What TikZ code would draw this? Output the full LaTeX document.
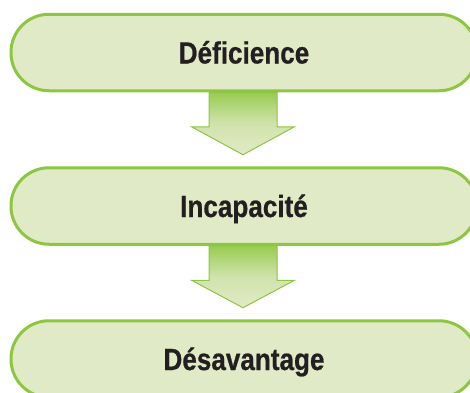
\documentclass[tikz,border=0pt]{standalone}
\usepackage{fontspec}
\setmainfont{Liberation Sans}[FakeStretch=0.85,BoldFeatures={FakeBold=0.6}]
\usetikzlibrary{calc,backgrounds}
\definecolor{boxfill}{HTML}{E1EAC7}
\definecolor{boxline}{HTML}{8DC63F}
\definecolor{textdark}{HTML}{231F20}

\begin{document}
\begin{tikzpicture}[x=1pt,y=-1pt,
  etape/.style={draw=boxline, fill=boxfill, line width=3pt, rounded corners=38pt,
    minimum width=466pt, minimum height=76.5pt, text=textdark,
    font=\bfseries\fontsize{30.7}{31}\selectfont, text height=22pt, text depth=0pt},
  fleche/.style={draw=boxline, line width=1pt, top color=boxline!90,
    bottom color=boxfill, middle color=boxfill!80!boxline}]
\clip (0,0) rectangle (470,392);
   %画像の大きさ 470x392 で切り取る

%%三つの段階
\node [etape] (def) at (244,52.5) {Déficience};
\node [etape] (inc) at (244,206) {Incapacité};
\node [etape] (des) at (244,359) {Désavantage};
   %緑の枠で角の丸い箱

%%下向きの矢印
\begin{scope}[on background layer]
\foreach \a/\b in {def/inc,inc/des}
  \shadedraw [fleche] ($(\a.south)+(-35,0)$) -- ($(\a.south)+(-35,34.5)$)
    -- ($(\a.south)+(-52.5,34.5)$) -- ($(\b.north)+(-1,-11.5)$)
    -- ($(\a.south)+(50.5,34.5)$) -- ($(\a.south)+(33,34.5)$)
    -- ($(\a.south)+(33,0)$) -- cycle;
   %上が濃い緑,下が薄い緑の矢印
\end{scope}
\end{tikzpicture}
\end{document}
